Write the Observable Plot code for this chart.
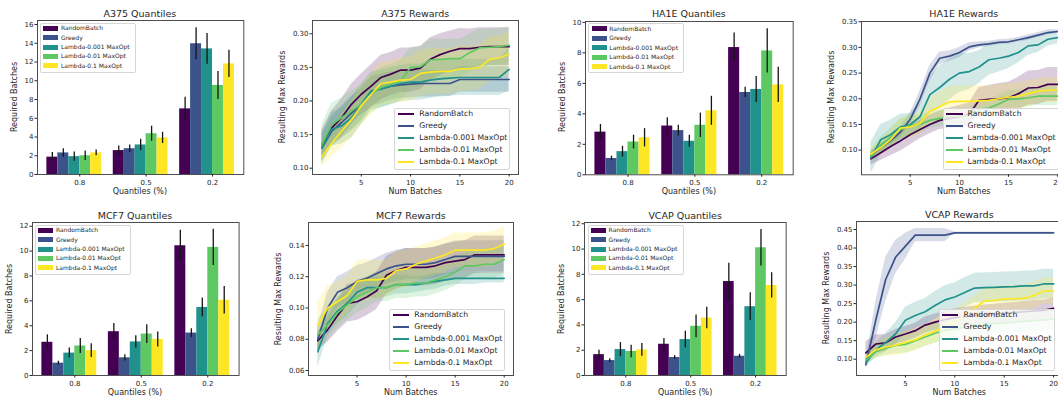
<!DOCTYPE html>
<html>
<head>
<meta charset="utf-8">
<script src="https://cdn.jsdelivr.net/npm/d3@7"></script>
<script src="https://cdn.jsdelivr.net/npm/@observablehq/plot@0.6"></script>
<style>
  body { margin: 0; width: 1058px; height: 401px; overflow: hidden; background: #fff; }
  #fig { position: relative; width: 1058px; height: 401px; overflow: hidden;
         font-family: "DejaVu Sans", sans-serif; color: #262626; }
  .txt { position: absolute; white-space: nowrap; line-height: 1; }
  .legend { position: absolute; box-sizing: border-box; background: rgba(255,255,255,0.8);
            border: 1px solid #d6d6d6; border-radius: 2px; }
  .legend .row { position: absolute; white-space: nowrap; line-height: 1; }
  .legend .swatch { position: absolute; }
</style>
</head>
<body>
<div id="fig"></div>
<script>
// ---- shared series / categories ----
const seriesNames = ["RandomBatch", "Greedy", "Lambda-0.001 MaxOpt", "Lambda-0.01 MaxOpt", "Lambda-0.1 MaxOpt"];
const seriesColors = ["#440154", "#3b528b", "#21918c", "#5ec962", "#fde725"];
const quantileLabels = ["0.8", "0.5", "0.2"];
const batches = [1, 2, 3, 4, 5, 6, 7, 8, 9, 10, 11, 12, 13, 14, 15, 16, 17, 18, 19, 20];

// ---- required batches per quantile (rows: series, cols: quantile) ----
const a375Batches = [[1.85, 2.55, 7.0], [2.3, 2.75, 13.95], [1.9, 3.15, 13.4], [2.0, 4.35, 9.5], [2.3, 3.9, 11.8]];
const a375BatchErr = [[0.5, 0.5, 1.25], [0.45, 0.4, 1.7], [0.5, 0.6, 1.65], [0.5, 0.8, 1.5], [0.3, 0.6, 1.45]];
const ha1eBatches = [[2.8, 3.2, 8.35], [1.07, 2.9, 5.4], [1.52, 2.2, 5.6], [2.15, 3.25, 8.13], [2.43, 4.2, 5.9]];
const ha1eBatchErr = [[0.5, 0.55, 0.95], [0.15, 0.35, 0.35], [0.35, 0.4, 0.85], [0.45, 0.8, 1.45], [0.6, 0.95, 1.15]];
const mcf7Batches = [[2.67, 3.52, 10.43], [0.99, 1.42, 3.41], [1.8, 2.7, 5.47], [2.37, 3.33, 10.3], [2.0, 2.9, 6.05]];
const mcf7BatchErr = [[0.6, 0.65, 1.25], [0.15, 0.25, 0.35], [0.4, 0.5, 0.75], [0.6, 0.75, 1.45], [0.55, 0.6, 1.1]];
const vcapBatches = [[1.65, 2.47, 7.43], [1.18, 1.42, 1.52], [2.05, 2.84, 5.44], [1.9, 3.89, 10.1], [2.02, 4.54, 7.12]];
const vcapBatchErr = [[0.35, 0.45, 1.45], [0.15, 0.15, 0.15], [0.55, 0.65, 1.1], [0.5, 0.9, 1.45], [0.5, 0.85, 1.0]];

// ---- resulting max rewards per batch (mean and spread; rows: series) ----
const a375Reward = [
  [0.135,0.160,0.175,0.195,0.210,0.222,0.235,0.240,0.246,0.246,0.249,0.262,0.269,0.274,0.278,0.278,0.280,0.281,0.281,0.281],
  [0.130,0.155,0.168,0.182,0.195,0.214,0.218,0.222,0.224,0.225,0.226,0.226,0.226,0.226,0.232,0.232,0.232,0.232,0.232,0.232],
  [0.130,0.158,0.163,0.175,0.195,0.215,0.218,0.222,0.226,0.228,0.228,0.231,0.233,0.234,0.235,0.235,0.235,0.235,0.235,0.247],
  [0.135,0.165,0.175,0.185,0.195,0.210,0.220,0.225,0.230,0.250,0.251,0.261,0.262,0.263,0.263,0.272,0.279,0.280,0.281,0.283],
  [0.117,0.137,0.155,0.172,0.193,0.210,0.226,0.228,0.231,0.232,0.241,0.243,0.244,0.244,0.248,0.248,0.250,0.262,0.264,0.270]];
const a375Spread = [
  [0.022,0.025,0.028,0.030,0.030,0.032,0.033,0.032,0.033,0.033,0.032,0.032,0.031,0.030,0.030,0.029,0.029,0.028,0.028,0.028],
  [0.020,0.022,0.024,0.025,0.024,0.022,0.022,0.021,0.020,0.020,0.020,0.020,0.019,0.019,0.019,0.019,0.019,0.019,0.019,0.019],
  [0.022,0.025,0.027,0.030,0.030,0.028,0.028,0.028,0.027,0.027,0.027,0.027,0.027,0.027,0.027,0.027,0.027,0.027,0.027,0.032],
  [0.030,0.032,0.030,0.030,0.028,0.028,0.030,0.030,0.030,0.030,0.030,0.030,0.030,0.029,0.029,0.028,0.028,0.027,0.027,0.027],
  [0.015,0.020,0.025,0.028,0.030,0.030,0.032,0.032,0.033,0.033,0.034,0.034,0.034,0.034,0.034,0.033,0.033,0.033,0.033,0.032]];

const ha1eReward = [
  [0.083,0.095,0.107,0.118,0.130,0.140,0.150,0.158,0.162,0.165,0.170,0.197,0.199,0.200,0.202,0.210,0.221,0.222,0.228,0.228],
  [0.090,0.105,0.118,0.135,0.160,0.200,0.250,0.279,0.283,0.290,0.301,0.305,0.307,0.310,0.311,0.315,0.319,0.324,0.329,0.331],
  [0.085,0.120,0.130,0.145,0.150,0.165,0.208,0.222,0.238,0.250,0.253,0.262,0.276,0.279,0.283,0.290,0.303,0.305,0.316,0.319],
  [0.088,0.110,0.125,0.140,0.148,0.150,0.158,0.162,0.165,0.166,0.167,0.180,0.182,0.190,0.199,0.200,0.202,0.205,0.205,0.205],
  [0.092,0.105,0.120,0.143,0.145,0.152,0.176,0.185,0.194,0.195,0.195,0.196,0.197,0.200,0.203,0.205,0.210,0.215,0.217,0.217]];
const ha1eSpread = [
  [0.012,0.015,0.018,0.020,0.020,0.018,0.018,0.018,0.020,0.022,0.022,0.025,0.027,0.030,0.030,0.032,0.033,0.033,0.033,0.033],
  [0.008,0.008,0.008,0.010,0.012,0.015,0.015,0.012,0.010,0.010,0.008,0.006,0.005,0.005,0.005,0.005,0.005,0.005,0.005,0.004],
  [0.030,0.030,0.028,0.025,0.022,0.025,0.035,0.042,0.040,0.038,0.035,0.032,0.030,0.027,0.024,0.020,0.018,0.015,0.013,0.012],
  [0.012,0.015,0.018,0.020,0.020,0.018,0.016,0.016,0.016,0.016,0.016,0.016,0.016,0.016,0.017,0.017,0.018,0.018,0.018,0.018],
  [0.012,0.015,0.018,0.020,0.022,0.022,0.025,0.028,0.030,0.030,0.030,0.030,0.028,0.028,0.027,0.026,0.025,0.024,0.024,0.024]];

const mcf7Reward = [
  [0.079,0.086,0.095,0.103,0.104,0.107,0.111,0.121,0.124,0.126,0.126,0.126,0.127,0.129,0.130,0.131,0.134,0.134,0.134,0.134],
  [0.080,0.100,0.110,0.113,0.117,0.119,0.122,0.125,0.127,0.128,0.128,0.128,0.129,0.131,0.133,0.133,0.133,0.133,0.133,0.133],
  [0.072,0.090,0.098,0.103,0.110,0.113,0.113,0.113,0.115,0.115,0.115,0.116,0.117,0.118,0.119,0.119,0.119,0.119,0.119,0.119],
  [0.083,0.089,0.097,0.102,0.107,0.110,0.113,0.113,0.115,0.115,0.116,0.116,0.118,0.120,0.123,0.127,0.127,0.128,0.128,0.131],
  [0.089,0.100,0.104,0.108,0.117,0.118,0.118,0.119,0.124,0.125,0.128,0.130,0.132,0.134,0.137,0.137,0.137,0.137,0.138,0.141]];
const mcf7Spread = [
  [0.006,0.008,0.010,0.012,0.012,0.012,0.012,0.012,0.012,0.012,0.012,0.012,0.012,0.012,0.012,0.012,0.012,0.012,0.012,0.012],
  [0.008,0.010,0.010,0.010,0.010,0.010,0.010,0.010,0.010,0.010,0.010,0.010,0.010,0.010,0.010,0.010,0.010,0.010,0.010,0.010],
  [0.010,0.008,0.008,0.008,0.008,0.007,0.007,0.006,0.006,0.006,0.005,0.005,0.005,0.004,0.004,0.004,0.004,0.003,0.003,0.003],
  [0.010,0.010,0.010,0.010,0.010,0.010,0.009,0.009,0.009,0.009,0.009,0.009,0.009,0.009,0.009,0.009,0.009,0.009,0.009,0.009],
  [0.015,0.014,0.013,0.012,0.013,0.013,0.012,0.012,0.012,0.012,0.011,0.011,0.011,0.011,0.011,0.011,0.011,0.011,0.011,0.011]];

const vcapReward = [
  [0.117,0.141,0.144,0.160,0.168,0.177,0.192,0.200,0.207,0.212,0.215,0.218,0.220,0.222,0.224,0.226,0.228,0.230,0.232,0.237],
  [0.085,0.205,0.315,0.375,0.405,0.435,0.435,0.435,0.435,0.441,0.441,0.441,0.441,0.441,0.441,0.441,0.441,0.441,0.441,0.441],
  [0.090,0.125,0.145,0.168,0.205,0.218,0.228,0.245,0.260,0.268,0.280,0.292,0.293,0.294,0.295,0.296,0.298,0.298,0.303,0.303],
  [0.097,0.120,0.130,0.137,0.140,0.150,0.160,0.170,0.178,0.182,0.186,0.190,0.193,0.196,0.198,0.200,0.202,0.204,0.206,0.208],
  [0.105,0.125,0.133,0.138,0.145,0.152,0.165,0.175,0.190,0.200,0.220,0.237,0.257,0.259,0.262,0.263,0.264,0.272,0.284,0.284]];
const vcapSpread = [
  [0.030,0.025,0.022,0.020,0.020,0.020,0.022,0.022,0.022,0.024,0.025,0.025,0.026,0.026,0.027,0.027,0.028,0.028,0.028,0.028],
  [0.010,0.050,0.060,0.045,0.035,0.018,0.018,0.018,0.018,0.002,0.002,0.002,0.002,0.002,0.002,0.002,0.002,0.002,0.002,0.002],
  [0.012,0.020,0.025,0.030,0.035,0.036,0.036,0.037,0.038,0.038,0.040,0.040,0.040,0.040,0.040,0.040,0.040,0.040,0.040,0.040],
  [0.012,0.018,0.020,0.022,0.024,0.025,0.026,0.027,0.028,0.028,0.028,0.028,0.029,0.029,0.030,0.030,0.030,0.030,0.030,0.030],
  [0.012,0.020,0.025,0.028,0.030,0.030,0.030,0.032,0.032,0.033,0.033,0.034,0.035,0.035,0.036,0.036,0.036,0.036,0.036,0.036]];

// ---- tick values ----
const batchTicks16 = [0, 2, 4, 6, 8, 10, 12, 14, 16];
const batchTicks10 = [0, 2, 4, 6, 8, 10];
const batchTicks12 = [0, 2, 4, 6, 8, 10, 12];
const rewardTicksA375 = [0.10, 0.15, 0.20, 0.25, 0.30];
const rewardTicksHA1E = [0.10, 0.15, 0.20, 0.25, 0.30, 0.35];
const rewardTicksMCF7 = [0.06, 0.08, 0.10, 0.12, 0.14];
const rewardTicksVCAP = [0.10, 0.15, 0.20, 0.25, 0.30, 0.35, 0.40, 0.45];

// ---- drawing helpers ----
const fig = document.getElementById("fig");
const M = {l: 45, t: 10, r: 12, b: 30};
const axisStyle = {fontFamily: "DejaVu Sans", fontSize: "7px", color: "#262626",
                   maxWidth: "none", background: "transparent", overflow: "visible"};

function place(el, left, top) {
  el.style.position = "absolute";
  el.style.left = left + "px";
  el.style.top = top + "px";
  fig.appendChild(el);
}

function label(text, cx, cy, size, rotate) {
  const d = document.createElement("div");
  d.className = "txt";
  d.textContent = text;
  d.style.fontSize = size + "px";
  d.style.left = cx + "px";
  d.style.top = cy + "px";
  d.style.transform = "translate(-50%,-50%)" + (rotate ? " rotate(-90deg)" : "");
  fig.appendChild(d);
}

function decorate(f, title, xLabel, yLabel, yOffset) {
  const cx = (f.l + f.r) / 2, cy = (f.t + f.b) / 2;
  label(title, cx, f.t - 6.5, 9.5, false);
  label(xLabel, cx, f.b + 18, 8, false);
  label(yLabel, f.l - yOffset, cy, 8, true);
}

// legend: kind "patch" (bar charts, upper-left) or "line" (reward charts, lower-right)
function legend(f, kind) {
  const box = document.createElement("div");
  box.className = "legend";
  let w, h, rowGap, first, fs, textX;
  if (kind === "patch") {
    w = 96; h = 50; rowGap = 9.4; first = 5.6; fs = 6; textX = 21;
    box.style.left = (f.l + 3.3) + "px";
    box.style.top = (f.t + 2.7) + "px";
  } else {
    w = 116; h = 62; rowGap = 12; first = 6.2; fs = 7.7; textX = 25;
    box.style.left = (f.r - 8 - w) + "px";
    box.style.top = (f.b - 4.5 - h) + "px";
  }
  box.style.width = w + "px";
  box.style.height = h + "px";
  seriesNames.forEach((name, i) => {
    const cy = first + i * rowGap - 1;
    const sw = document.createElement("div");
    sw.className = "swatch";
    sw.style.background = seriesColors[i];
    if (kind === "patch") {
      sw.style.left = "2.3px"; sw.style.width = "15px";
      sw.style.top = (cy - 2.5) + "px"; sw.style.height = "5px";
    } else {
      sw.style.left = "2.4px"; sw.style.width = "16.6px";
      sw.style.top = (cy - 0.85) + "px"; sw.style.height = "1.7px";
    }
    box.appendChild(sw);
    const t = document.createElement("div");
    t.className = "row";
    t.textContent = name;
    t.style.fontSize = fs + "px";
    t.style.left = (textX - 1) + "px";
    t.style.top = (cy - fs / 2) + "px";
    box.appendChild(t);
  });
  fig.appendChild(box);
}

function barPanel(title, means, errors, yMax, yTicks, f) {
  const rows = [];
  means.forEach((vals, s) => vals.forEach((v, q) => rows.push({q, s, v, e: errors[s][q]})));
  const w = 0.165; // bar width in category units
  const fw = f.r - f.l, fh = f.b - f.t;
  const svg = Plot.plot({
    width: fw + M.l + M.r, height: fh + M.t + M.b,
    marginLeft: M.l, marginRight: M.r, marginTop: M.t, marginBottom: M.b,
    style: axisStyle,
    x: {domain: [-0.636, 2.471]},
    y: {domain: [0, yMax]},
    color: {type: "identity"},
    marks: [
      Plot.rect(rows, {x1: d => d.q + (d.s - 3) * w, x2: d => d.q + (d.s - 2) * w,
                       y1: 0, y2: "v", fill: d => seriesColors[d.s]}),
      Plot.ruleX(rows, {x: d => d.q + (d.s - 2.5) * w, y1: d => d.v - d.e, y2: d => d.v + d.e,
                        stroke: "#151515", strokeWidth: 1.3}),
      Plot.frame({stroke: "#4d4d4d", strokeWidth: 1}),
      Plot.axisX({ticks: [0, 1, 2], tickFormat: i => quantileLabels[i], tickSize: 2.5, tickPadding: 3, label: null}),
      Plot.axisY({ticks: yTicks, tickSize: 2.5, tickPadding: 1.5, label: null})
    ]
  });
  place(svg, f.l - M.l, f.t - M.t);
  decorate(f, title, "Quantiles (%)", "Required Batches", 22);
  legend(f, "patch");
}

function rewardPanel(title, means, spreads, yDomain, yTicks, f) {
  const series = means.map((m, s) => batches.map((x, i) => ({
    x, y: m[i], lo: m[i] - spreads[s][i], hi: m[i] + spreads[s][i]})));
  const fw = f.r - f.l, fh = f.b - f.t;
  const svg = Plot.plot({
    width: fw + M.l + M.r, height: fh + M.t + M.b,
    marginLeft: M.l, marginRight: M.r, marginTop: M.t, marginBottom: M.b,
    style: axisStyle,
    x: {domain: [0.05, 20.95]},
    y: {domain: yDomain},
    marks: [
      ...series.map((rows, s) => Plot.areaY(rows, {x: "x", y1: "lo", y2: "hi",
                                                    fill: seriesColors[s], fillOpacity: 0.2})),
      ...series.map((rows, s) => Plot.lineY(rows, {x: "x", y: "y", stroke: seriesColors[s], strokeWidth: 1.7})),
      Plot.frame({stroke: "#4d4d4d", strokeWidth: 1}),
      Plot.axisX({ticks: [5, 10, 15, 20], tickSize: 2.5, tickPadding: 3, label: null}),
      Plot.axisY({ticks: yTicks, tickFormat: d3.format(".2f"), tickSize: 2.5, tickPadding: 1.5, label: null})
    ]
  });
  place(svg, f.l - M.l, f.t - M.t);
  decorate(f, title, "Num Batches", "Resulting Max Rewards", 29.5);
  legend(f, "line");
}

// ---- 2 x 4 grid of panels ----
barPanel("A375 Quantiles", a375Batches, a375BatchErr, 16.43, batchTicks16, {l: 36.7, r: 243, t: 20, b: 174});
rewardPanel("A375 Rewards", a375Reward, a375Spread, [0.0906, 0.3198], rewardTicksA375, {l: 312.3, r: 518.3, t: 20, b: 174});
barPanel("HA1E Quantiles", ha1eBatches, ha1eBatchErr, 10.06, batchTicks10, {l: 585, r: 792.7, t: 20.7, b: 174});
rewardPanel("HA1E Rewards", ha1eReward, ha1eSpread, [0.052, 0.3505], rewardTicksHA1E, {l: 861, r: 1066.6, t: 20.7, b: 174});
barPanel("MCF7 Quantiles", mcf7Batches, mcf7BatchErr, 12.3, batchTicks12, {l: 31.7, r: 238.3, t: 222, b: 375});
rewardPanel("MCF7 Rewards", mcf7Reward, mcf7Spread, [0.0568, 0.1547], rewardTicksMCF7, {l: 308.3, r: 513.3, t: 222, b: 375});
barPanel("VCAP Quantiles", vcapBatches, vcapBatchErr, 12.1, batchTicks12, {l: 584.3, r: 786, t: 222, b: 375});
rewardPanel("VCAP Rewards", vcapReward, vcapSpread, [0.056, 0.4716], rewardTicksVCAP, {l: 856, r: 1062.5, t: 221, b: 375});
</script>
</body>
</html>
